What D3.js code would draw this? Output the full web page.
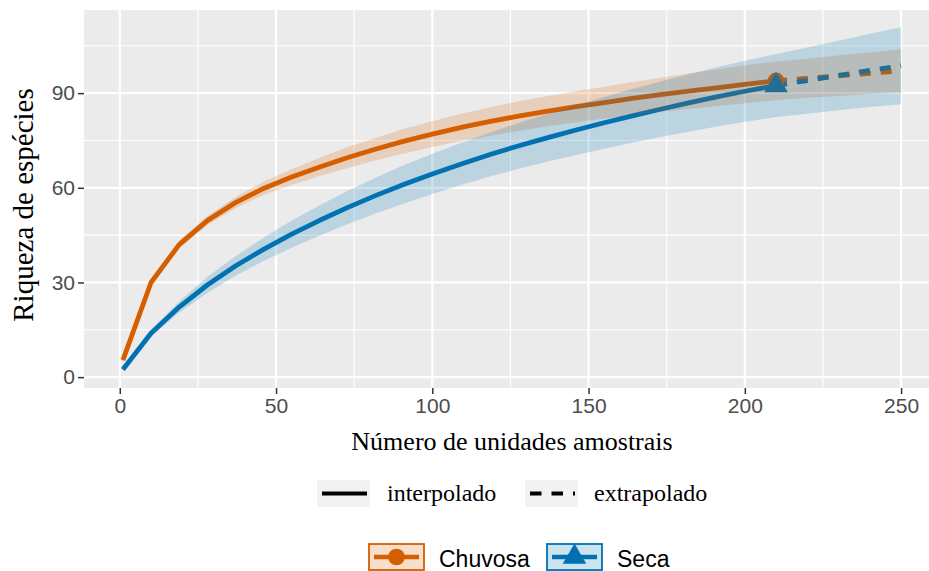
<!DOCTYPE html>
<html>
<head>
<meta charset="utf-8">
<script src="https://cdn.jsdelivr.net/npm/d3@7"></script>
<style>
  body { margin: 0; background: #fff; }
  svg { display: block; }
</style>
</head>
<body>
<svg id="chart" width="929" height="571"></svg>
<script>
// sample sizes (knots) along the curves
var knots = [1, 10, 19, 28, 37, 46, 55, 64, 73, 82, 91, 100, 110, 119, 128, 137, 146, 155, 164, 173, 182, 191, 200, 210];
var extrapKnots = [210, 220, 230, 240, 250];

// Chuvosa (rainy season)
var chuvosaInterp = [5.4, 30.0, 42.0, 49.6, 55.3, 59.8, 63.4, 66.6, 69.6, 72.3, 74.8, 77.0, 79.3, 81.1, 82.8, 84.3, 85.7, 87.0, 88.3, 89.5, 90.6, 91.7, 92.8, 93.9];
var chuvosaLo = [5.0, 29.1, 40.8, 48.1, 53.5, 57.7, 60.9, 63.7, 66.3, 68.7, 70.9, 72.9, 75.0, 76.6, 78.1, 79.5, 80.8, 82.0, 83.1, 84.1, 85.0, 85.9, 86.8, 87.8];
var chuvosaHi = [5.8, 30.9, 43.2, 51.1, 57.1, 61.9, 65.9, 69.5, 72.9, 75.9, 78.7, 81.1, 83.6, 85.6, 87.5, 89.1, 90.6, 92.0, 93.5, 94.9, 96.2, 97.5, 98.8, 100.0];
var chuvosaExtrap = [93.9, 94.7, 95.5, 96.3, 97.1];
var chuvosaExtrapLo = [87.8, 88.5, 89.1, 89.7, 90.3];
var chuvosaExtrapHi = [100.0, 100.9, 101.9, 102.9, 103.9];

// Seca (dry season)
var secaInterp = [2.4, 13.9, 22.2, 29.2, 35.2, 40.5, 45.3, 49.7, 53.8, 57.6, 61.1, 64.4, 67.8, 70.7, 73.4, 75.9, 78.3, 80.6, 82.8, 84.9, 86.9, 88.8, 90.6, 92.4];
var secaLo = [2.0, 12.9, 20.4, 26.7, 32.1, 36.8, 41.0, 44.9, 48.5, 51.9, 55.0, 58.0, 61.1, 63.7, 66.1, 68.3, 70.4, 72.4, 74.3, 76.1, 77.8, 79.4, 80.9, 82.4];
var secaHi = [2.8, 14.9, 24.0, 31.7, 38.3, 44.2, 49.6, 54.5, 59.1, 63.3, 67.2, 70.8, 74.5, 77.7, 80.7, 83.5, 86.2, 88.8, 91.3, 93.7, 96.0, 98.2, 100.3, 102.4];
var secaExtrap = [92.4, 94.0, 95.6, 97.2, 98.7];
var secaExtrapLo = [82.4, 83.5, 84.6, 85.6, 86.5];
var secaExtrapHi = [102.4, 104.5, 106.6, 108.8, 110.9];

// observed sample size for each season
var observedN = [210, 210];

var seasons = ["Chuvosa", "Seca"];
var seasonColors = ["#D55E00", "#0072B2"];
var seasonShapes = ["circle", "triangle"];
var methods = ["interpolado", "extrapolado"];

var xTicks = [0, 50, 100, 150, 200, 250];
var xMinor = [25, 75, 125, 175, 225];
var yTicks = [0, 30, 60, 90];
var yMinor = [15, 45, 75, 105];

var series = [
  { name: seasons[0], color: seasonColors[0], shape: seasonShapes[0],
    interp: chuvosaInterp, lo: chuvosaLo, hi: chuvosaHi,
    extrap: chuvosaExtrap, elo: chuvosaExtrapLo, ehi: chuvosaExtrapHi, n: observedN[0] },
  { name: seasons[1], color: seasonColors[1], shape: seasonShapes[1],
    interp: secaInterp, lo: secaLo, hi: secaHi,
    extrap: secaExtrap, elo: secaExtrapLo, ehi: secaExtrapHi, n: observedN[1] }
];

// panel geometry
var panel = { left: 84, right: 940, top: 10, bottom: 388 };

var svg = d3.select("#chart");

// scales with ggplot-like 5% expansion
var allX = knots.concat(extrapKnots);
var xExt = d3.extent(allX);
var xPad = (xExt[1] - xExt[0]) * 0.05;
var x = d3.scaleLinear().domain([xExt[0] - xPad, xExt[1] + xPad]).range([panel.left, panel.right]);

var allY = chuvosaLo.concat(chuvosaHi, chuvosaExtrapHi, secaLo, secaHi, secaExtrapHi);
var yExt = d3.extent(allY);
var yPad = (yExt[1] - yExt[0]) * 0.05;
var y = d3.scaleLinear().domain([yExt[0] - yPad, yExt[1] + yPad]).range([panel.bottom, panel.top]);

svg.append("defs").append("clipPath").attr("id", "clip")
  .append("rect")
    .attr("x", panel.left).attr("y", panel.top)
    .attr("width", panel.right - panel.left).attr("height", panel.bottom - panel.top);

// panel background
svg.append("rect")
  .attr("x", panel.left).attr("y", panel.top)
  .attr("width", panel.right - panel.left).attr("height", panel.bottom - panel.top)
  .attr("fill", "#EBEBEB");

// grid lines
var grid = svg.append("g").attr("clip-path", "url(#clip)");
grid.selectAll(".xminor").data(xMinor).enter().append("line")
  .attr("x1", function(d) { return x(d); }).attr("x2", function(d) { return x(d); })
  .attr("y1", panel.top).attr("y2", panel.bottom)
  .attr("stroke", "#fff").attr("stroke-width", 1.1);
grid.selectAll(".yminor").data(yMinor).enter().append("line")
  .attr("y1", function(d) { return y(d); }).attr("y2", function(d) { return y(d); })
  .attr("x1", panel.left).attr("x2", panel.right)
  .attr("stroke", "#fff").attr("stroke-width", 1.1);
grid.selectAll(".xmajor").data(xTicks).enter().append("line")
  .attr("x1", function(d) { return x(d); }).attr("x2", function(d) { return x(d); })
  .attr("y1", panel.top).attr("y2", panel.bottom)
  .attr("stroke", "#fff").attr("stroke-width", 2.2);
grid.selectAll(".ymajor").data(yTicks).enter().append("line")
  .attr("y1", function(d) { return y(d); }).attr("y2", function(d) { return y(d); })
  .attr("x1", panel.left).attr("x2", panel.right)
  .attr("stroke", "#fff").attr("stroke-width", 2.2);

var plot = svg.append("g").attr("clip-path", "url(#clip)");

var line = d3.line()
  .x(function(d) { return x(d[0]); })
  .y(function(d) { return y(d[1]); });

var area = d3.area()
  .x(function(d) { return x(d[0]); })
  .y0(function(d) { return y(d[1]); })
  .y1(function(d) { return y(d[2]); });

// solid interpolated lines
series.forEach(function(s) {
  plot.append("path")
    .datum(knots.map(function(k, i) { return [k, s.interp[i]]; }))
    .attr("d", line)
    .attr("fill", "none")
    .attr("stroke", s.color)
    .attr("stroke-width", 4.8)
    .attr("stroke-linejoin", "round");
});

// dashed extrapolated lines
series.forEach(function(s) {
  plot.append("path")
    .datum(extrapKnots.map(function(k, i) { return [k, s.extrap[i]]; }))
    .attr("d", line)
    .attr("fill", "none")
    .attr("stroke", s.color)
    .attr("stroke-width", 4.8)
    .attr("stroke-dasharray", "11,10");
});

// observed points
var circleSym = d3.symbol().type(d3.symbolCircle).size(220);
var triSym = d3.symbol().type(d3.symbolTriangle).size(240);
series.forEach(function(s) {
  var idx = knots.indexOf(s.n);
  plot.append("path")
    .attr("d", s.shape === "circle" ? circleSym() : triSym())
    .attr("transform", "translate(" + x(s.n) + "," + y(s.interp[idx]) + ")")
    .attr("fill", s.color);
});

// confidence ribbons drawn on top with alpha
series.forEach(function(s) {
  var rib = knots.map(function(k, i) { return [k, s.lo[i], s.hi[i]]; })
    .concat(extrapKnots.slice(1).map(function(k, i) { return [k, s.elo[i + 1], s.ehi[i + 1]]; }));
  plot.append("path")
    .datum(rib)
    .attr("d", area)
    .attr("fill", s.color)
    .attr("fill-opacity", 0.2);
});

// axes
var yAxis = svg.append("g")
  .attr("transform", "translate(" + panel.left + ",0)")
  .call(d3.axisLeft(y).tickValues(yTicks).tickSize(6).tickPadding(3));
var xAxis = svg.append("g")
  .attr("transform", "translate(0," + panel.bottom + ")")
  .call(d3.axisBottom(x).tickValues(xTicks).tickSize(6).tickPadding(4));

[xAxis, yAxis].forEach(function(ax) {
  ax.select(".domain").remove();
  ax.selectAll(".tick line").attr("stroke", "#333").attr("stroke-width", 1.5);
  ax.selectAll(".tick text")
    .attr("fill", "#4D4D4D")
    .style("font-family", "'Liberation Sans', Arial, sans-serif")
    .style("font-size", "21px");
});

// axis titles
svg.append("text")
  .attr("x", (panel.left + panel.right) / 2)
  .attr("y", 450)
  .attr("text-anchor", "middle")
  .style("font-family", "'Liberation Serif', 'Times New Roman', serif")
  .style("font-size", "26px")
  .attr("fill", "#000")
  .text("Número de unidades amostrais");

svg.append("text")
  .attr("transform", "translate(33,205) rotate(-90)")
  .attr("text-anchor", "middle")
  .style("font-family", "'Liberation Serif', 'Times New Roman', serif")
  .style("font-size", "29px")
  .attr("fill", "#000")
  .text("Riqueza de espécies");

// legend: line type
var lineLegend = [
  { label: methods[0], keyX: 317, textX: 387, dash: null },
  { label: methods[1], keyX: 525, textX: 594, dash: "11.5,10" }
];
var lg1 = svg.append("g");
lineLegend.forEach(function(d) {
  lg1.append("rect")
    .attr("x", d.keyX).attr("y", 480).attr("width", 53).attr("height", 27)
    .attr("fill", "#F2F2F2");
  lg1.append("line")
    .attr("x1", d.keyX + 5).attr("x2", d.keyX + 50)
    .attr("y1", 493.5).attr("y2", 493.5)
    .attr("stroke", "#000").attr("stroke-width", 4)
    .attr("stroke-dasharray", d.dash);
  lg1.append("text")
    .attr("x", d.textX).attr("y", 501)
    .style("font-family", "'Liberation Serif', 'Times New Roman', serif")
    .style("font-size", "24px")
    .attr("fill", "#000")
    .text(d.label);
});

// legend: season (colour + shape)
var seasonLegendX = [{ keyX: 369, textX: 439 }, { keyX: 547, textX: 617 }];
var lg2 = svg.append("g");
series.forEach(function(s, i) {
  var p = seasonLegendX[i];
  lg2.append("rect")
    .attr("x", p.keyX).attr("y", 544).attr("width", 55).attr("height", 26)
    .attr("fill", d3.interpolateRgb("#fff", s.color)(0.2))
    .attr("stroke", s.color).attr("stroke-width", 1.8);
  lg2.append("line")
    .attr("x1", p.keyX + 5).attr("x2", p.keyX + 50)
    .attr("y1", 557).attr("y2", 557)
    .attr("stroke", s.color).attr("stroke-width", 4.5);
  lg2.append("path")
    .attr("d", s.shape === "circle" ? circleSym() : triSym())
    .attr("transform", "translate(" + (p.keyX + 27.5) + ",557)")
    .attr("fill", s.color);
  lg2.append("text")
    .attr("x", p.textX).attr("y", 566.5)
    .style("font-family", "'Liberation Sans', Arial, sans-serif")
    .style("font-size", "23px")
    .attr("fill", "#000")
    .text(s.name);
});
</script>
</body>
</html>
